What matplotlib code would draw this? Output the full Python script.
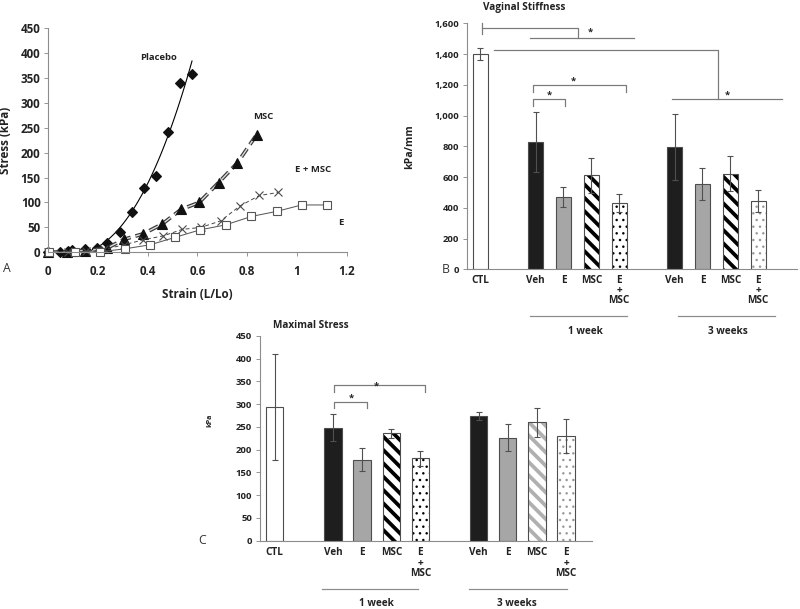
import numpy as np
import matplotlib as mpl
import matplotlib.pyplot as plt

plt.rcParams['font.family'] = ['Open Sans', 'DejaVu Sans']
plt.rcParams['font.weight'] = 'bold'
plt.rcParams['axes.labelweight'] = 'bold'
plt.rcParams['lines.scale_dashes'] = False

# ---- panel A: stress / strain curves
placebo_strain = [0, 0.047, 0.08, 0.094, 0.147, 0.194, 0.237, 0.288, 0.338, 0.386, 0.432, 0.48, 0.53, 0.577]
placebo_stress = [0, 1.5, 3, 4.5, 6, 8, 19, 40, 81, 129, 153, 242, 340, 357]
msc_strain = [0, 0.074, 0.094, 0.147, 0.235, 0.304, 0.382, 0.459, 0.534, 0.607, 0.685, 0.76, 0.838]
msc_stress = [0, 1, 3, 3, 8, 26, 37, 57, 86, 100, 140, 179, 236]
emsc_strain = [0, 0.08, 0.15, 0.225, 0.304, 0.382, 0.462, 0.539, 0.614, 0.693, 0.771, 0.849, 0.925]
emsc_stress = [0, 1, 2, 6, 15, 25, 33, 46, 50, 63, 93, 114, 120]
e_strain = [0.004, 0.107, 0.208, 0.308, 0.409, 0.51, 0.61, 0.713, 0.817, 0.918, 1.019, 1.12]
e_stress = [0, 1, 1, 7, 15, 30, 45, 55, 72, 82, 95, 95]

# ---- panels B and C: bar groups
bar_labels = ['CTL', 'Veh', 'E', 'MSC', 'E\n+\nMSC', 'Veh', 'E', 'MSC', 'E\n+\nMSC']
group_labels = ['1 week', '3 weeks']
stiff_vals = [1400, 830, 470, 612, 430, 798, 555, 621, 447]
stiff_err = [40, 195, 67, 115, 60, 214, 101, 114, 72]
stress_vals = [294, 248, 178, 236, 181, 274, 226, 260, 230]
stress_err = [117, 30, 25, 10, 16, 9, 30, 32, 38]

strain_ticks = [0, 0.2, 0.4, 0.6, 0.8, 1.0, 1.2]
kpa_ticks = [0, 50, 100, 150, 200, 250, 300, 350, 400, 450]
stiff_ticks = [0, 200, 400, 600, 800, 1000, 1200, 1400, 1600]

slots = [0, 2, 3, 4, 5, 7, 8, 9, 10]

TXT = '#222222'
AX = '#8c8c8c'
BR = '#7a7a7a'
BLACK = '#1e1e1e'
GREY = '#a6a6a6'
STRIPE = '\\\\'

# (face, hatch, hatch colour)
styles_b = [('white', None, None), (BLACK, None, None), (GREY, None, None),
            ('white', STRIPE, 'black'), ('white', '..', 'black'),
            (BLACK, None, None), (GREY, None, None),
            ('white', STRIPE, 'black'), ('white', '..', '#9a9a9a')]
styles_c = styles_b[:7] + [('white', STRIPE, '#b0b0b0'), ('white', '..', '#9a9a9a')]


def set_hatch_lw(patch, lw):
    if hasattr(patch, 'set_hatch_linewidth'):
        patch.set_hatch_linewidth(lw)
    draw = patch.draw

    def _draw(renderer, draw=draw):
        with mpl.rc_context({'hatch.linewidth': lw}):
            draw(renderer)
    patch.draw = _draw


def style_axis(ax):
    for s in ['top', 'right']:
        ax.spines[s].set_visible(False)
    for s in ['left', 'bottom']:
        ax.spines[s].set_color(AX)
        ax.spines[s].set_linewidth(1.0)
    ax.tick_params(colors=AX, labelcolor=TXT, direction='out')


def draw_bars(ax, vals, errs, styles, width):
    for x, v, e, (face, hatch, hcol) in zip(slots, vals, errs, styles):
        if hatch:
            b = ax.bar(x, v, width, color=face, edgecolor=hcol, linewidth=0, hatch=hatch)
            if '\\' in hatch:
                for p in b:
                    set_hatch_lw(p, 3.4)
            ax.bar(x, v, width, color='none', edgecolor='#4d4d4d', linewidth=1)
        else:
            ax.bar(x, v, width, color=face, edgecolor='#4d4d4d', linewidth=1)
        ax.errorbar(x, v, yerr=e, color='#505050', capsize=3, lw=1, capthick=1)


def bracket(ax, x0, x1, y, y0, y1=None):
    if y1 is None:
        y1 = y0
    ax.plot([x0, x0, x1, x1], [y0, y, y, y1], color=BR, lw=1.1, clip_on=False)


def star(ax, x, y, size=8.5):
    ax.text(x, y, '*', ha='center', va='center', fontsize=size, color=TXT)


fig = plt.figure(figsize=(10, 7.6125), dpi=80)

# ================= A =================
axA = fig.add_axes([0.0604, 0.5857, 0.3729, 0.3683])
coefs = np.polyfit(placebo_strain, placebo_stress, 3)
xs = np.linspace(0.17, 0.578, 100)
axA.plot(xs, np.clip(np.polyval(coefs, xs), 0, None), color='black', lw=1.0)
axA.plot(placebo_strain, placebo_stress, 'D', color='#111111', ms=6, clip_on=False)

axA.plot(msc_strain, msc_stress, color='#3a3a3a', lw=3.4, dashes=(9, 4.5))
axA.plot(msc_strain, msc_stress, color='#e0e0e0', lw=1.2, dashes=(9, 4.5))
axA.plot(msc_strain, msc_stress, '^', color='#111111', ms=8.5, clip_on=False)

axA.plot(emsc_strain, emsc_stress, color='#4a4a4a', lw=0.9, dashes=(3.5, 2.5),
         marker='x', ms=6.5, mew=1.0, clip_on=False)
axA.plot(e_strain, e_stress, color='#555555', lw=0.9, marker='s', ms=8,
         mfc='white', mec='#555555', mew=1.0, clip_on=False)

axA.set_xlim(0, 1.2)
axA.set_ylim(0, 450)
axA.set_xticks(strain_ticks, [f'{v:g}' for v in strain_ticks], fontweight='bold')
axA.set_yticks(kpa_ticks, [str(v) for v in kpa_ticks], fontweight='bold')
axA.tick_params(labelsize=10.5, length=4, pad=3)
axA.tick_params(axis='x', pad=7)
style_axis(axA)
axA.set_xlabel('Strain (L/Lo)', fontsize=10.5, color=TXT)
axA.set_ylabel('Stress (kPa)', fontsize=10.5, color=TXT)
axA.xaxis.set_label_coords(0.5, -0.159)
axA.yaxis.set_label_coords(-0.122, 0.5)
for txt, x, y in [('Placebo', 0.445, 390), ('MSC', 0.864, 272), ('E + MSC', 1.065, 167), ('E', 1.177, 59)]:
    axA.text(x, y, txt, ha='center', va='center', fontsize=8.5, color=TXT)

# ================= B =================
axB = fig.add_axes([0.5834, 0.5578, 0.4129, 0.4039])
draw_bars(axB, stiff_vals, stiff_err, styles_b, 0.54)
axB.set_xlim(-0.478, 11.4)
axB.set_ylim(0, 1600)
axB.set_yticks(stiff_ticks, [f'{v:,}' for v in stiff_ticks], fontweight='bold')
axB.set_xticks(slots, bar_labels, fontsize=9, fontweight='bold', linespacing=0.9, va='top')
axB.tick_params(axis='y', labelsize=8.5, length=4, pad=3)
axB.tick_params(axis='x', length=0, pad=5)
style_axis(axB)
axB.set_ylabel('kPa/mm', fontsize=9.5, color=TXT)
axB.yaxis.set_label_coords(-0.157, 0.5)
axB.text(0.049, 1.066, 'Vaginal Stiffness', transform=axB.transAxes, ha='left', va='center',
         fontsize=9, color=TXT)

tB = axB.get_xaxis_transform()
for (x0, x1), xt, lab in zip([(1.8, 5.28), (7.13, 10.6)], [3.78, 8.93], group_labels):
    axB.plot([x0, x1], [-0.19, -0.19], color=AX, lw=1.1, transform=tB, clip_on=False)
    axB.text(xt, -0.252, lab, transform=tB, ha='center', va='center', fontsize=9, color=TXT)

# significance marks
axB.plot([0.06, 0.06], [1528, 1604], color=BR, lw=1.1, clip_on=False)
axB.plot([0.06, 3.54, 3.54], [1567, 1567, 1506], color=BR, lw=1.1, clip_on=False)
axB.plot([1.8, 5.54], [1506, 1506], color=BR, lw=1.1, clip_on=False)
star(axB, 3.96, 1545)
axB.plot([0.51, 8.55, 8.55], [1426, 1426, 1108], color=BR, lw=1.1, clip_on=False)
axB.plot([6.92, 10.85], [1108, 1108], color=BR, lw=1.1, clip_on=False)
star(axB, 8.9, 1135)
bracket(axB, 1.92, 5.25, 1199, 1155)
star(axB, 3.36, 1222)
bracket(axB, 1.92, 3.06, 1106, 1064)
star(axB, 2.49, 1132)

# ================= C =================
axC = fig.add_axes([0.325, 0.1121, 0.415, 0.3366])
draw_bars(axC, stress_vals, stress_err, styles_c, 0.595)
axC.set_xlim(-0.505, 10.89)
axC.set_ylim(0, 450)
axC.set_yticks(kpa_ticks, [str(v) for v in kpa_ticks], fontweight='bold')
axC.set_xticks(slots, bar_labels, fontsize=9, fontweight='bold', linespacing=0.9, va='top')
axC.tick_params(axis='y', labelsize=8.5, length=4, pad=3)
axC.tick_params(axis='x', length=0, pad=6)
style_axis(axC)
axC.set_ylabel('kPa', fontsize=6.5, color=TXT)
axC.yaxis.set_label_coords(-0.141, 0.589)
axC.text(0.04, 1.052, 'Maximal Stress', transform=axC.transAxes, ha='left', va='center',
         fontsize=9, color=TXT)

tC = axC.get_xaxis_transform()
for (x0, x1), xt, lab in zip([(1.61, 4.93), (6.67, 10.02)], [3.5, 8.31], group_labels):
    axC.plot([x0, x1], [-0.236, -0.236], color=AX, lw=1.1, transform=tC, clip_on=False)
    axC.text(xt, -0.304, lab, transform=tC, ha='center', va='center', fontsize=9, color=TXT)

bracket(axC, 2.05, 5.16, 342, 327)
star(axC, 3.48, 340)
bracket(axC, 2.05, 3.16, 305, 292)
star(axC, 2.62, 312)

# panel letters
for lab, x, y in [('A', 6.7, 268.3), ('B', 446, 269.7), ('C', 201.7, 540.7)]:
    fig.text(x / 800, 1 - y / 609, lab, ha='center', va='center', fontsize=11,
             fontweight='normal', color='#333333')

fig.savefig('out.png', dpi=80)
